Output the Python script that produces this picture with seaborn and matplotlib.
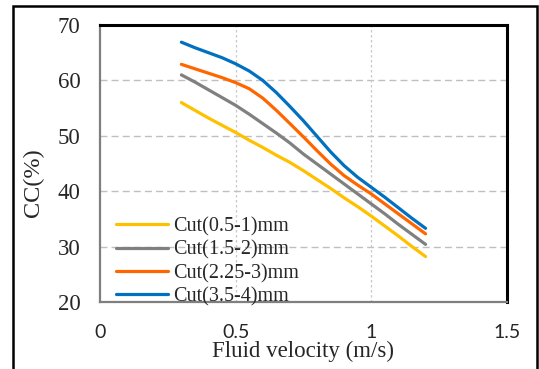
import pandas as pd
import matplotlib.pyplot as plt
import seaborn as sns
from matplotlib.patches import Rectangle

# Dados (passo de 0.05 m/s)
velocidade = [0.3, 0.35, 0.4, 0.45, 0.5, 0.55, 0.6, 0.65, 0.7, 0.75,
              0.8, 0.85, 0.9, 0.95, 1.0, 1.05, 1.1, 1.15, 1.2]
cut_05_1 = [56.0, 54.6, 53.2, 51.9, 50.6, 49.2, 47.9, 46.5, 45.2, 43.7,
            42.1, 40.5, 38.8, 37.2, 35.5, 33.7, 31.9, 30.0, 28.2]
cut_15_2 = [61.0, 59.7, 58.3, 56.9, 55.5, 53.9, 52.2, 50.5, 48.7, 46.7,
            44.9, 43.1, 41.3, 39.5, 37.7, 35.9, 34.0, 32.2, 30.4]
cut_225_3 = [62.9, 62.1, 61.3, 60.5, 59.6, 58.5, 56.8, 54.6, 52.2, 49.8,
             47.3, 44.9, 42.8, 41.1, 39.5, 37.7, 35.9, 34.1, 32.3]
cut_35_4 = [66.9, 65.9, 65.0, 64.1, 63.0, 61.7, 60.0, 57.8, 55.3, 52.7,
            49.9, 47.1, 44.6, 42.5, 40.7, 38.9, 37.0, 35.1, 33.3]
series_labels = ['Cut(0.5-1)mm', 'Cut(1.5-2)mm', 'Cut(2.25-3)mm', 'Cut(3.5-4)mm']
cores = ['#FFC000', '#808080', '#FF6600', '#0070C0']

df = pd.DataFrame({
    'vel': velocidade * 4,
    'cc': cut_05_1 + cut_15_2 + cut_225_3 + cut_35_4,
    'serie': [s for s in series_labels for _ in velocidade],
})

sns.set_style('white')
plt.rcParams['font.family'] = ['Liberation Serif', 'DejaVu Serif']

fig = plt.figure(figsize=(5.39, 3.69), dpi=100)
ax = fig.add_axes([0.1855, 0.1816, 0.7551, 0.7506])

sns.lineplot(data=df, x='vel', y='cc', hue='serie', palette=cores,
             hue_order=series_labels, linewidth=2.3, ax=ax, legend=True)

ax.set_xlim(0, 1.5)
ax.set_ylim(20, 70)
ax.set_xticks([0, 0.5, 1, 1.5])
ax.set_xticklabels(['0', '0.5', '1', '1.5'], family='Lato', fontsize=14)
ax.set_yticks([20, 30, 40, 50, 60, 70])
ax.set_yticklabels(['20', '30', '40', '50', '60', '70'], fontsize=16.5)
ax.tick_params(axis='both', length=0)
ax.tick_params(axis='x', pad=16)
ax.tick_params(axis='y', pad=14)

# grades
for yv in [30, 40, 50, 60]:
    ax.axhline(yv, color='#bfbfbf', lw=1, ls=(0, (5, 3)), zorder=0)
for xv in [0.5, 1.0]:
    ax.axvline(xv, color='#c8c8c8', lw=0.9, ls=(0, (2, 2)), zorder=0)

ax.set_xlabel('Fluid velocity (m/s)', fontsize=16.5, labelpad=0)
ax.set_ylabel('CC(%)', fontsize=17.5)
ax.yaxis.set_label_coords(-0.137, 0.43)

for lado in ['left', 'bottom']:
    ax.spines[lado].set_color('#7f7f7f')
    ax.spines[lado].set_linewidth(1.6)
for lado in ['top', 'right']:
    ax.spines[lado].set_color('black')
    ax.spines[lado].set_linewidth(2.2)

handles, labels = ax.get_legend_handles_labels()
ax.legend(handles, labels, loc='lower left', bbox_to_anchor=(0.014, -0.052),
          frameon=False, fontsize=14.5, handlelength=2.6, handletextpad=0.25,
          labelspacing=0.2, borderpad=0)

# moldura externa
fig.patches.append(Rectangle((13 / 539, -0.1), 524 / 539, 1.1 - 6 / 369,
                             transform=fig.transFigure, fill=False,
                             edgecolor='black', lw=1.8))

plt.savefig('out.png', dpi=100)
